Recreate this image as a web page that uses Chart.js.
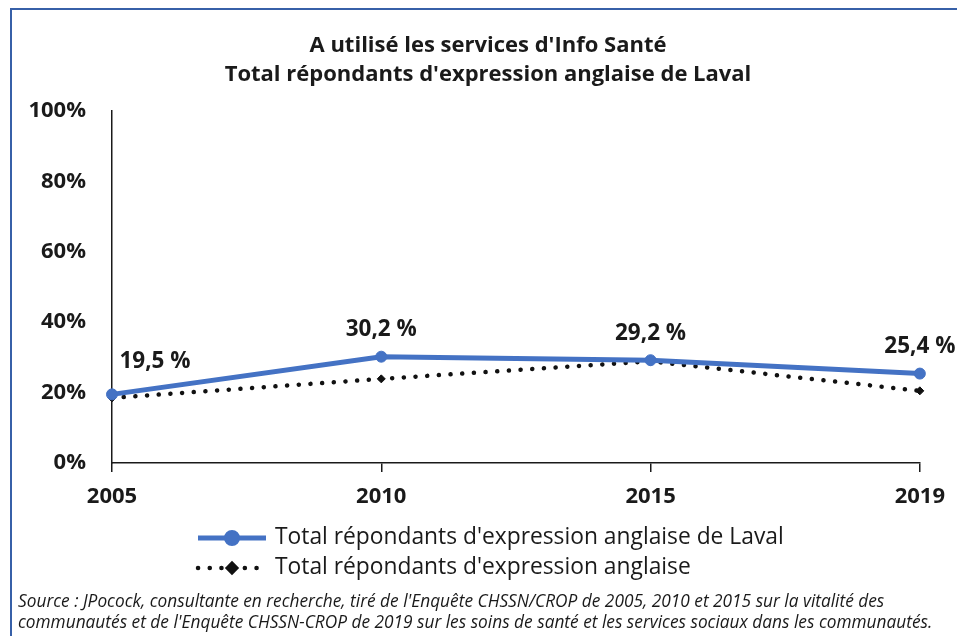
<!DOCTYPE html>
<html>
<head>
<meta charset="utf-8">
<script src="https://cdn.jsdelivr.net/npm/chart.js@4"></script>
<style>
  body { margin: 0; background: #fff; overflow: hidden; }
  #wrap { position: relative; width: 957px; height: 636px; }
  #frame { position: absolute; left: 10px; top: 8px; width: 980px; height: 680px; border: 2px solid #3760a8; box-sizing: border-box; }
  #title { position: absolute; left: 0; top: 29px; width: 976px; text-align: center; font: bold 22px "Open Sans", sans-serif; line-height: 29px; color: #1a1a1a; }
  #source { position: absolute; left: 18px; top: 590px; font: italic 17.3px "Open Sans", sans-serif; line-height: 21px; color: #1a1a1a; }
  canvas { position: absolute; left: 0; top: 0; }
</style>
</head>
<body>
<div id="wrap">
  <div id="frame"></div>
  <canvas id="myChart" width="957" height="636"></canvas>
  <div id="title">A utilisé les services d'Info Santé<br>Total répondants d'expression anglaise de Laval</div>
  <div id="source">Source : JPocock, consultante en recherche, tiré de l'Enquête CHSSN/CROP de 2005, 2010 et 2015 sur la vitalité des<br>communautés et de l'Enquête CHSSN-CROP de 2019 sur les soins de santé et les services sociaux dans les communautés.</div>
</div>
<script>
// data
years = ["2005", "2010", "2015", "2019"];
laval = [19.5, 30.2, 29.2, 25.4];
allAnglo = [18.5, 23.9, 28.9, 20.5];
yTicks = [0, 20, 40, 60, 80, 100];
seriesNames = ["Total répondants d'expression anglaise de Laval", "Total répondants d'expression anglaise"];

// value labels above the Laval line
valueLabels = {
    id: "valueLabels",
    afterDatasetsDraw(chart) {
        var ctx = chart.ctx;
        var meta = chart.getDatasetMeta(0);
        ctx.save();
        ctx.font = "bold 22.5px 'Open Sans', sans-serif";
        ctx.fillStyle = "#1a1a1a";
        ctx.textAlign = "center";
        ctx.textBaseline = "middle";
        meta.data.forEach((pt, i) => {
            var txt = laval[i].toFixed(1).replace(".", ",") + " %";
            var dx = i === 0 ? 43 : 0;
            var dy = i === 0 ? -33 : -27;
            ctx.fillText(txt, pt.x + dx, pt.y + dy);
        });
        ctx.restore();
    }
};

// two-row legend like the excel one
lineLegend = {
    id: "lineLegend",
    afterDraw(chart) {
        var ctx = chart.ctx;
        var rows = [538, 568];
        ctx.save();
        chart.data.datasets.forEach((ds, i) => {
            var y = rows[i];
            ctx.strokeStyle = ds.borderColor;
            ctx.lineWidth = ds.borderWidth;
            ctx.lineCap = ds.borderCapStyle || "butt";
            ctx.setLineDash(ds.borderDash || []);
            ctx.beginPath();
            ctx.moveTo(198, y);
            ctx.lineTo(266, y);
            ctx.stroke();
            ctx.setLineDash([]);
            Chart.helpers.drawPoint(ctx, {pointStyle: ds.pointStyle, radius: ds.pointRadius, borderWidth: 1}, 232, y);
            ctx.fillStyle = ds.pointBackgroundColor;
            ctx.fill();
            ctx.font = "22.8px 'Open Sans', sans-serif";
            ctx.fillStyle = "#1a1a1a";
            ctx.textBaseline = "middle";
            ctx.fillText(ds.label, 275, y);
        });
        ctx.restore();
    }
};

ctx = document.getElementById("myChart").getContext("2d");

new Chart(ctx, {
    type: "line",
    data: {
        labels: years,
        datasets: [
            {
                label: seriesNames[0],
                data: laval,
                borderColor: "#4472c4",
                backgroundColor: "#4472c4",
                pointBackgroundColor: "#4472c4",
                pointBorderColor: "#4472c4",
                borderWidth: 5,
                pointRadius: 5.5,
                pointBorderWidth: 1,
                pointStyle: "circle",
                tension: 0
            },
            {
                label: seriesNames[1],
                data: allAnglo,
                borderColor: "#111111",
                backgroundColor: "#111111",
                pointBackgroundColor: "#111111",
                pointBorderColor: "#111111",
                borderWidth: 4.5,
                borderDash: [0.1, 11.6],
                borderCapStyle: "round",
                pointRadius: 4,
                pointBorderWidth: 1,
                pointStyle: "rectRot",
                tension: 0
            }
        ]
    },
    options: {
        responsive: false,
        animation: false,
        layout: { padding: { top: 111, left: 0, right: 37, bottom: 133 } },
        scales: {
            x: {
                offset: false,
                afterFit: s => { s.height = 40; },
                grid: { display: true, drawOnChartArea: false, drawTicks: true, tickLength: 9, color: "#1a1a1a", lineWidth: 1.5 },
                border: { display: true, color: "#1a1a1a", width: 1.5 },
                ticks: { padding: 12, color: "#1a1a1a", font: { family: "'Open Sans'", size: 22, weight: "bold" }, maxRotation: 0 }
            },
            y: {
                min: 0,
                max: 100,
                afterFit: s => { s.width = 112; },
                afterBuildTicks: s => { s.ticks = yTicks.map(v => ({ value: v })); },
                grid: { display: false },
                border: { display: true, color: "#1a1a1a", width: 1.5 },
                ticks: { padding: 18, color: "#1a1a1a", font: { family: "'Open Sans'", size: 22, weight: "bold" }, callback: v => v + "%" }
            }
        },
        plugins: {
            legend: { display: false },
            title: { display: false },
            tooltip: { enabled: false }
        }
    },
    plugins: [valueLabels, lineLegend]
});
</script>
</body>
</html>
